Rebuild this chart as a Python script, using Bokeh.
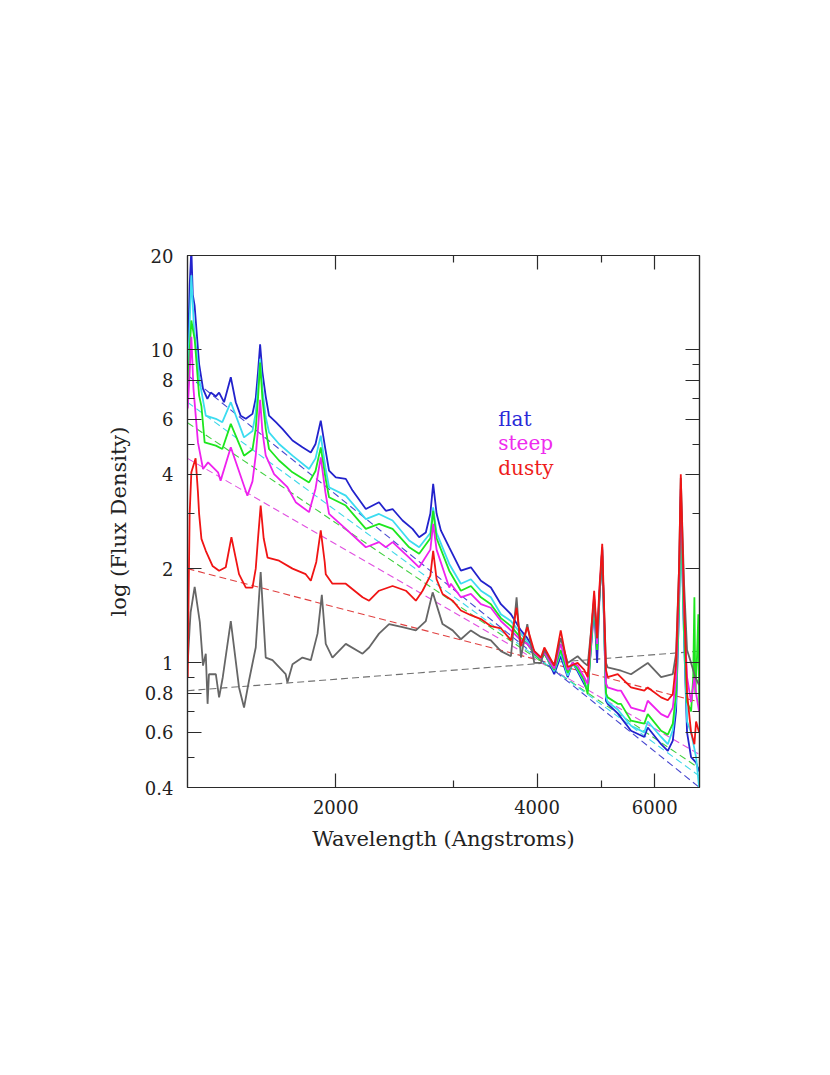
from bokeh.plotting import figure
from bokeh.models import FixedTicker, LogAxis, Label, CustomJSTickFormatter
from bokeh.embed import file_html
from bokeh.resources import INLINE

# ---------------- data (wavelength in Angstroms, flux density) ----------------
X_MAJOR = [2000, 4000, 6000]
X_MINOR = [3000, 5000]
Y_MAJOR = [0.4, 0.6, 0.8, 1, 2, 4, 6, 8, 10, 20]
Y_MINOR = [0.5, 0.7, 0.9, 3, 5, 7, 9]

BLUE = [(1201, 9.5), (1209, 16), (1216, 21), (1222, 15), (1230, 13.8), (1240, 11), (1249, 9.0),
        (1266, 7.5), (1285, 6.97), (1300, 7.3), (1323, 7.1), (1338, 7.3), (1361, 6.8), (1393, 8.17),
        (1417, 6.8), (1441, 6.16), (1467, 6.02), (1501, 6.24), (1518, 7.0), (1530, 8.5), (1541, 10.4),
        (1553, 8.5), (1571, 7.1), (1589, 6.16), (1627, 5.87), (1664, 5.59), (1723, 5.13), (1783, 4.88),
        (1835, 4.70), (1865, 5.0), (1899, 5.94), (1930, 4.8), (1954, 4.11), (2000, 3.91), (2070, 3.87),
        (2119, 3.55), (2218, 3.10), (2321, 3.26), (2376, 3.06), (2432, 3.10), (2517, 2.85), (2605, 2.68),
        (2665, 2.52), (2727, 2.61), (2770, 3.0), (2797, 3.73), (2830, 3.0), (2872, 2.65), (2956, 2.34),
        (3077, 1.97), (3185, 2.02), (3297, 1.83), (3412, 1.74), (3532, 1.54), (3656, 1.43), (3784, 1.27),
        (3868, 1.2), (3962, 1.09), (4055, 1.04), (4102, 1.08), (4244, 0.92), (4340, 1.05), (4446, 0.90),
        (4522, 1.0), (4600, 0.94), (4706, 0.856), (4762, 0.815), (4870, 1.5), (4920, 1.0), (4956, 1.55),
        (5007, 2.34), (5072, 0.757), (5102, 0.74), (5282, 0.69), (5529, 0.607), (5788, 0.58), (5857, 0.622),
        (6133, 0.55), (6276, 0.524), (6385, 0.565), (6457, 0.7), (6524, 1.5), (6563, 3.4), (6637, 1.2),
        (6706, 0.6), (6800, 0.5), (6918, 0.48), (6990, 0.45)]

CYAN = [(1201, 8.5), (1209, 12), (1216, 17.3), (1227, 11.8), (1252, 7.87), (1278, 6.16), (1323, 6.02),
        (1353, 5.87), (1393, 6.8), (1458, 5.25), (1501, 5.5), (1518, 6.3), (1530, 7.6), (1541, 9.35),
        (1553, 7.5), (1571, 6.1), (1589, 5.45), (1645, 5.0), (1723, 4.59), (1824, 4.16), (1865, 4.5),
        (1899, 5.32), (1930, 4.2), (1954, 3.64), (2070, 3.42), (2218, 2.88), (2321, 2.99), (2432, 2.85),
        (2575, 2.46), (2665, 2.34), (2770, 2.6), (2797, 3.14), (2830, 2.6), (2956, 2.07), (3077, 1.79),
        (3185, 1.85), (3297, 1.70), (3412, 1.62), (3532, 1.43), (3656, 1.36), (3784, 1.24), (3868, 1.17),
        (3962, 1.08), (4055, 1.03), (4102, 1.07), (4244, 0.94), (4340, 1.08), (4446, 0.91), (4522, 1.0),
        (4600, 0.95), (4706, 0.87), (4762, 0.82), (4870, 1.55), (4920, 1.1), (4956, 1.6), (5007, 2.2),
        (5072, 0.78), (5102, 0.75), (5282, 0.71), (5529, 0.63), (5788, 0.60), (5857, 0.65), (6133, 0.58),
        (6276, 0.55), (6385, 0.61), (6457, 0.75), (6524, 1.5), (6563, 3.0), (6637, 1.2), (6706, 0.65),
        (6800, 0.6), (6918, 0.5), (6990, 0.4)]

GREEN = [(1201, 7.5), (1209, 10), (1216, 12.4), (1230, 10.8), (1249, 7.14), (1259, 6.6), (1273, 5.06),
         (1323, 4.94), (1353, 4.82), (1393, 5.8), (1458, 4.59), (1501, 4.8), (1518, 5.6), (1530, 7.0),
         (1541, 9.1), (1553, 7.0), (1571, 5.6), (1589, 4.82), (1645, 4.43), (1723, 4.06), (1824, 3.77),
         (1865, 4.1), (1899, 4.88), (1930, 3.9), (1954, 3.38), (2070, 3.18), (2218, 2.68), (2321, 2.78),
         (2432, 2.68), (2575, 2.34), (2665, 2.23), (2770, 2.5), (2797, 3.06), (2830, 2.5), (2956, 1.97),
         (3077, 1.70), (3185, 1.76), (3297, 1.62), (3412, 1.54), (3532, 1.39), (3656, 1.31), (3784, 1.20),
         (3868, 1.15), (3962, 1.07), (4055, 1.02), (4102, 1.07), (4244, 0.95), (4340, 1.1), (4446, 0.93),
         (4522, 1.0), (4600, 0.96), (4706, 0.88), (4762, 0.795), (4870, 1.6), (4920, 1.1), (4956, 1.6),
         (5007, 2.3), (5072, 0.80), (5102, 0.776), (5282, 0.74), (5342, 0.74), (5529, 0.654), (5788, 0.64),
         (5857, 0.686), (6133, 0.607), (6276, 0.59), (6385, 0.64), (6457, 0.8), (6524, 1.6), (6563, 3.2),
         (6637, 1.3), (6706, 0.75), (6800, 0.7), (6850, 0.9), (6878, 1.62), (6900, 0.8), (6935, 1.0),
         (6972, 1.43), (6995, 0.7)]

MAGENTA = [(1201, 6.5), (1209, 8.5), (1216, 11), (1225, 7.5), (1244, 5.06), (1266, 4.16), (1288, 4.37),
           (1333, 4.06), (1345, 3.82), (1393, 4.88), (1475, 3.42), (1501, 3.8), (1518, 4.6), (1530, 5.6),
           (1541, 6.92), (1553, 5.5), (1571, 4.6), (1617, 4.01), (1693, 3.64), (1742, 3.26), (1824, 3.03),
           (1865, 3.6), (1899, 4.53), (1930, 3.5), (1954, 2.99), (2070, 2.68), (2218, 2.34), (2321, 2.43),
           (2376, 2.34), (2432, 2.43), (2575, 2.17), (2665, 2.02), (2770, 2.3), (2797, 2.78), (2830, 2.3),
           (2956, 1.74), (2973, 1.79), (3077, 1.62), (3185, 1.66), (3297, 1.54), (3412, 1.50), (3532, 1.36),
           (3656, 1.27), (3784, 1.18), (3868, 1.15), (3962, 1.08), (4055, 1.03), (4102, 1.08), (4244, 0.96),
           (4340, 1.15), (4446, 0.95), (4522, 1.0), (4600, 0.98), (4706, 0.9), (4762, 0.856), (4870, 1.65),
           (4920, 1.15), (4956, 1.65), (5007, 2.3), (5072, 0.86), (5102, 0.835), (5282, 0.815), (5342, 0.815),
           (5529, 0.72), (5788, 0.70), (5857, 0.757), (6133, 0.686), (6276, 0.67), (6385, 0.72), (6457, 0.9),
           (6524, 1.8), (6563, 3.6), (6637, 1.5), (6706, 0.9), (6800, 0.75), (6878, 0.9), (6918, 0.8),
           (6990, 0.7)]

RED = [(1201, 0.9), (1204, 1.5), (1209, 3.0), (1216, 4.06), (1234, 4.5), (1244, 3.5), (1249, 2.99),
       (1259, 2.49), (1278, 2.28), (1308, 2.04), (1338, 1.97), (1369, 2.02), (1396, 2.52), (1433, 1.92),
       (1467, 1.74), (1501, 1.74), (1518, 2.0), (1530, 2.5), (1544, 3.18), (1560, 2.5), (1581, 2.17),
       (1645, 2.12), (1723, 2.0), (1803, 1.92), (1835, 1.83), (1870, 2.1), (1899, 2.65), (1925, 2.1),
       (1932, 1.92), (1977, 1.79), (2070, 1.79), (2193, 1.62), (2243, 1.58), (2321, 1.70), (2432, 1.76),
       (2546, 1.70), (2635, 1.58), (2697, 1.70), (2770, 1.9), (2797, 2.28), (2830, 1.85), (2889, 1.66),
       (2991, 1.58), (3077, 1.47), (3185, 1.42), (3297, 1.38), (3412, 1.31), (3532, 1.29), (3656, 1.18),
       (3728, 1.5), (3784, 1.13), (3868, 1.3), (3962, 1.09), (4055, 1.04), (4102, 1.12), (4244, 0.98),
       (4340, 1.27), (4446, 0.97), (4600, 1.0), (4706, 0.95), (4762, 0.90), (4870, 1.7), (4920, 1.2),
       (4956, 1.7), (5007, 2.4), (5072, 0.95), (5102, 0.90), (5282, 0.92), (5529, 0.835), (5788, 0.815),
       (5857, 0.835), (6133, 0.776), (6276, 0.76), (6385, 0.795), (6457, 1.0), (6524, 2.0), (6563, 4.0),
       (6637, 1.6), (6706, 0.8), (6800, 0.6), (6878, 0.55), (6918, 0.65), (6990, 0.6)]

GRAY = [(1201, 1.0), (1209, 1.3), (1213, 1.45), (1230, 1.75), (1252, 1.35), (1266, 0.98), (1278, 1.07),
        (1286, 0.74), (1292, 0.92), (1323, 0.92), (1338, 0.776), (1355, 0.90), (1393, 1.36), (1433, 0.835),
        (1458, 0.72), (1483, 0.877), (1518, 1.12), (1544, 1.95), (1571, 1.04), (1608, 1.02), (1683, 0.92),
        (1693, 0.866), (1723, 0.99), (1783, 1.04), (1835, 1.02), (1878, 1.24), (1906, 1.65), (1932, 1.15),
        (1977, 1.04), (2070, 1.15), (2193, 1.07), (2243, 1.12), (2321, 1.24), (2403, 1.33), (2517, 1.30),
        (2635, 1.27), (2727, 1.36), (2792, 1.68), (2889, 1.33), (2991, 1.27), (3077, 1.19), (3185, 1.27),
        (3297, 1.21), (3412, 1.18), (3532, 1.09), (3656, 1.05), (3728, 1.62), (3784, 1.04), (3868, 1.33),
        (3962, 1.0), (4055, 1.0), (4102, 1.1), (4244, 0.98), (4340, 1.2), (4446, 1.0), (4600, 1.05),
        (4706, 1.0), (4762, 0.98), (4870, 1.6), (4920, 1.2), (4956, 1.6), (5007, 2.2), (5072, 1.0),
        (5102, 0.967), (5342, 0.944), (5529, 0.92), (5857, 1.0), (6133, 0.90), (6385, 0.92), (6457, 1.07),
        (6524, 2.0), (6563, 3.9), (6637, 1.8), (6706, 1.1), (6800, 1.0), (6900, 0.9), (6990, 0.85)]

# power-law continuum fits: flux at the two ends of the wavelength range
FIT_WAVE = [1200, 7000]
FIT_BLUE = [8.3, 0.40]
FIT_CYAN = [6.8, 0.435]
FIT_GREEN = [5.85, 0.46]
FIT_MAGENTA = [4.5, 0.51]
FIT_RED = [2.0, 0.75]
FIT_GRAY = [0.815, 1.09]

LEGEND = [("flat", 3500, 6.0, "#2a2ad8"), ("steep", 3500, 5.02, "#ee2cee"), ("dusty", 3500, 4.18, "#ee1c1c")]

# ---------------- figure ----------------
AXIS_COLOR = "#2b2b2b"
FONT = "DejaVu Serif"

p = figure(width=812, height=1055, x_axis_type="log", y_axis_type="log",
           x_range=(1200, 7000), y_range=(0.4, 20),
           output_backend="svg", toolbar_location=None,
           min_border_left=187, min_border_right=113, min_border_top=255, min_border_bottom=268)
p.grid.visible = False
p.outline_line_color = AXIS_COLOR
p.outline_line_width = 1.2
p.background_fill_color = "white"
p.border_fill_color = "white"

xt = FixedTicker(ticks=X_MAJOR, minor_ticks=X_MINOR)
yt = FixedTicker(ticks=Y_MAJOR, minor_ticks=Y_MINOR)
num_fmt = CustomJSTickFormatter(code="return String(tick);")
blank_fmt = CustomJSTickFormatter(code="return '';")


def style_axis(ax, ticker, fmt):
    ax.ticker = ticker
    ax.formatter = fmt
    ax.axis_line_color = AXIS_COLOR
    ax.axis_line_width = 1.2
    ax.major_tick_line_color = AXIS_COLOR
    ax.minor_tick_line_color = AXIS_COLOR
    ax.major_tick_line_width = 1.2
    ax.minor_tick_line_width = 1.2
    ax.major_tick_in = 14
    ax.major_tick_out = 0
    ax.minor_tick_in = 7
    ax.minor_tick_out = 0
    ax.major_label_text_font = FONT
    ax.major_label_text_font_size = "18px"
    ax.major_label_text_color = "#222222"
    ax.axis_label_text_font = FONT
    ax.axis_label_text_font_size = "21px"
    ax.axis_label_text_font_style = "normal"
    ax.axis_label_text_color = "#222222"


style_axis(p.xaxis[0], xt, num_fmt)
style_axis(p.yaxis[0], yt, num_fmt)
p.xaxis[0].axis_label = "Wavelength (Angstroms)"
p.yaxis[0].axis_label = "log (Flux Density)"
p.xaxis[0].major_label_standoff = 12
p.yaxis[0].major_label_standoff = 14
p.xaxis[0].axis_label_standoff = 10
p.yaxis[0].axis_label_standoff = 11

top_ax = LogAxis()
style_axis(top_ax, xt, blank_fmt)
top_ax.major_label_text_font_size = "0px"
p.add_layout(top_ax, "above")
right_ax = LogAxis()
style_axis(right_ax, yt, blank_fmt)
right_ax.major_label_text_font_size = "0px"
p.add_layout(right_ax, "right")

# dashed continuum fits
for fit, col in [(FIT_GRAY, "#707070"), (FIT_RED, "#e04040"), (FIT_MAGENTA, "#e050e0"),
                 (FIT_GREEN, "#40d040"), (FIT_CYAN, "#40d8e8"), (FIT_BLUE, "#4848d0")]:
    p.line(FIT_WAVE, fit, line_color=col, line_width=1.1, line_dash="7 4")

# spectra
for spec, col in [(BLUE, "#2222cc"), (CYAN, "#3cdcf0"), (GREEN, "#1ee61e"),
                  (MAGENTA, "#ee22ee"), (GRAY, "#666666"), (RED, "#f01414")]:
    w = [a for a, b in spec]
    f = [b for a, b in spec]
    p.line(w, f, line_color=col, line_width=1.8)

for txt, lx, ly, col in LEGEND:
    p.add_layout(Label(x=lx, y=ly, text=txt, text_color=col, text_font=FONT,
                       text_font_size="20px", text_baseline="alphabetic", text_align="left"))

open("out.html", "w").write(file_html(p, INLINE))
